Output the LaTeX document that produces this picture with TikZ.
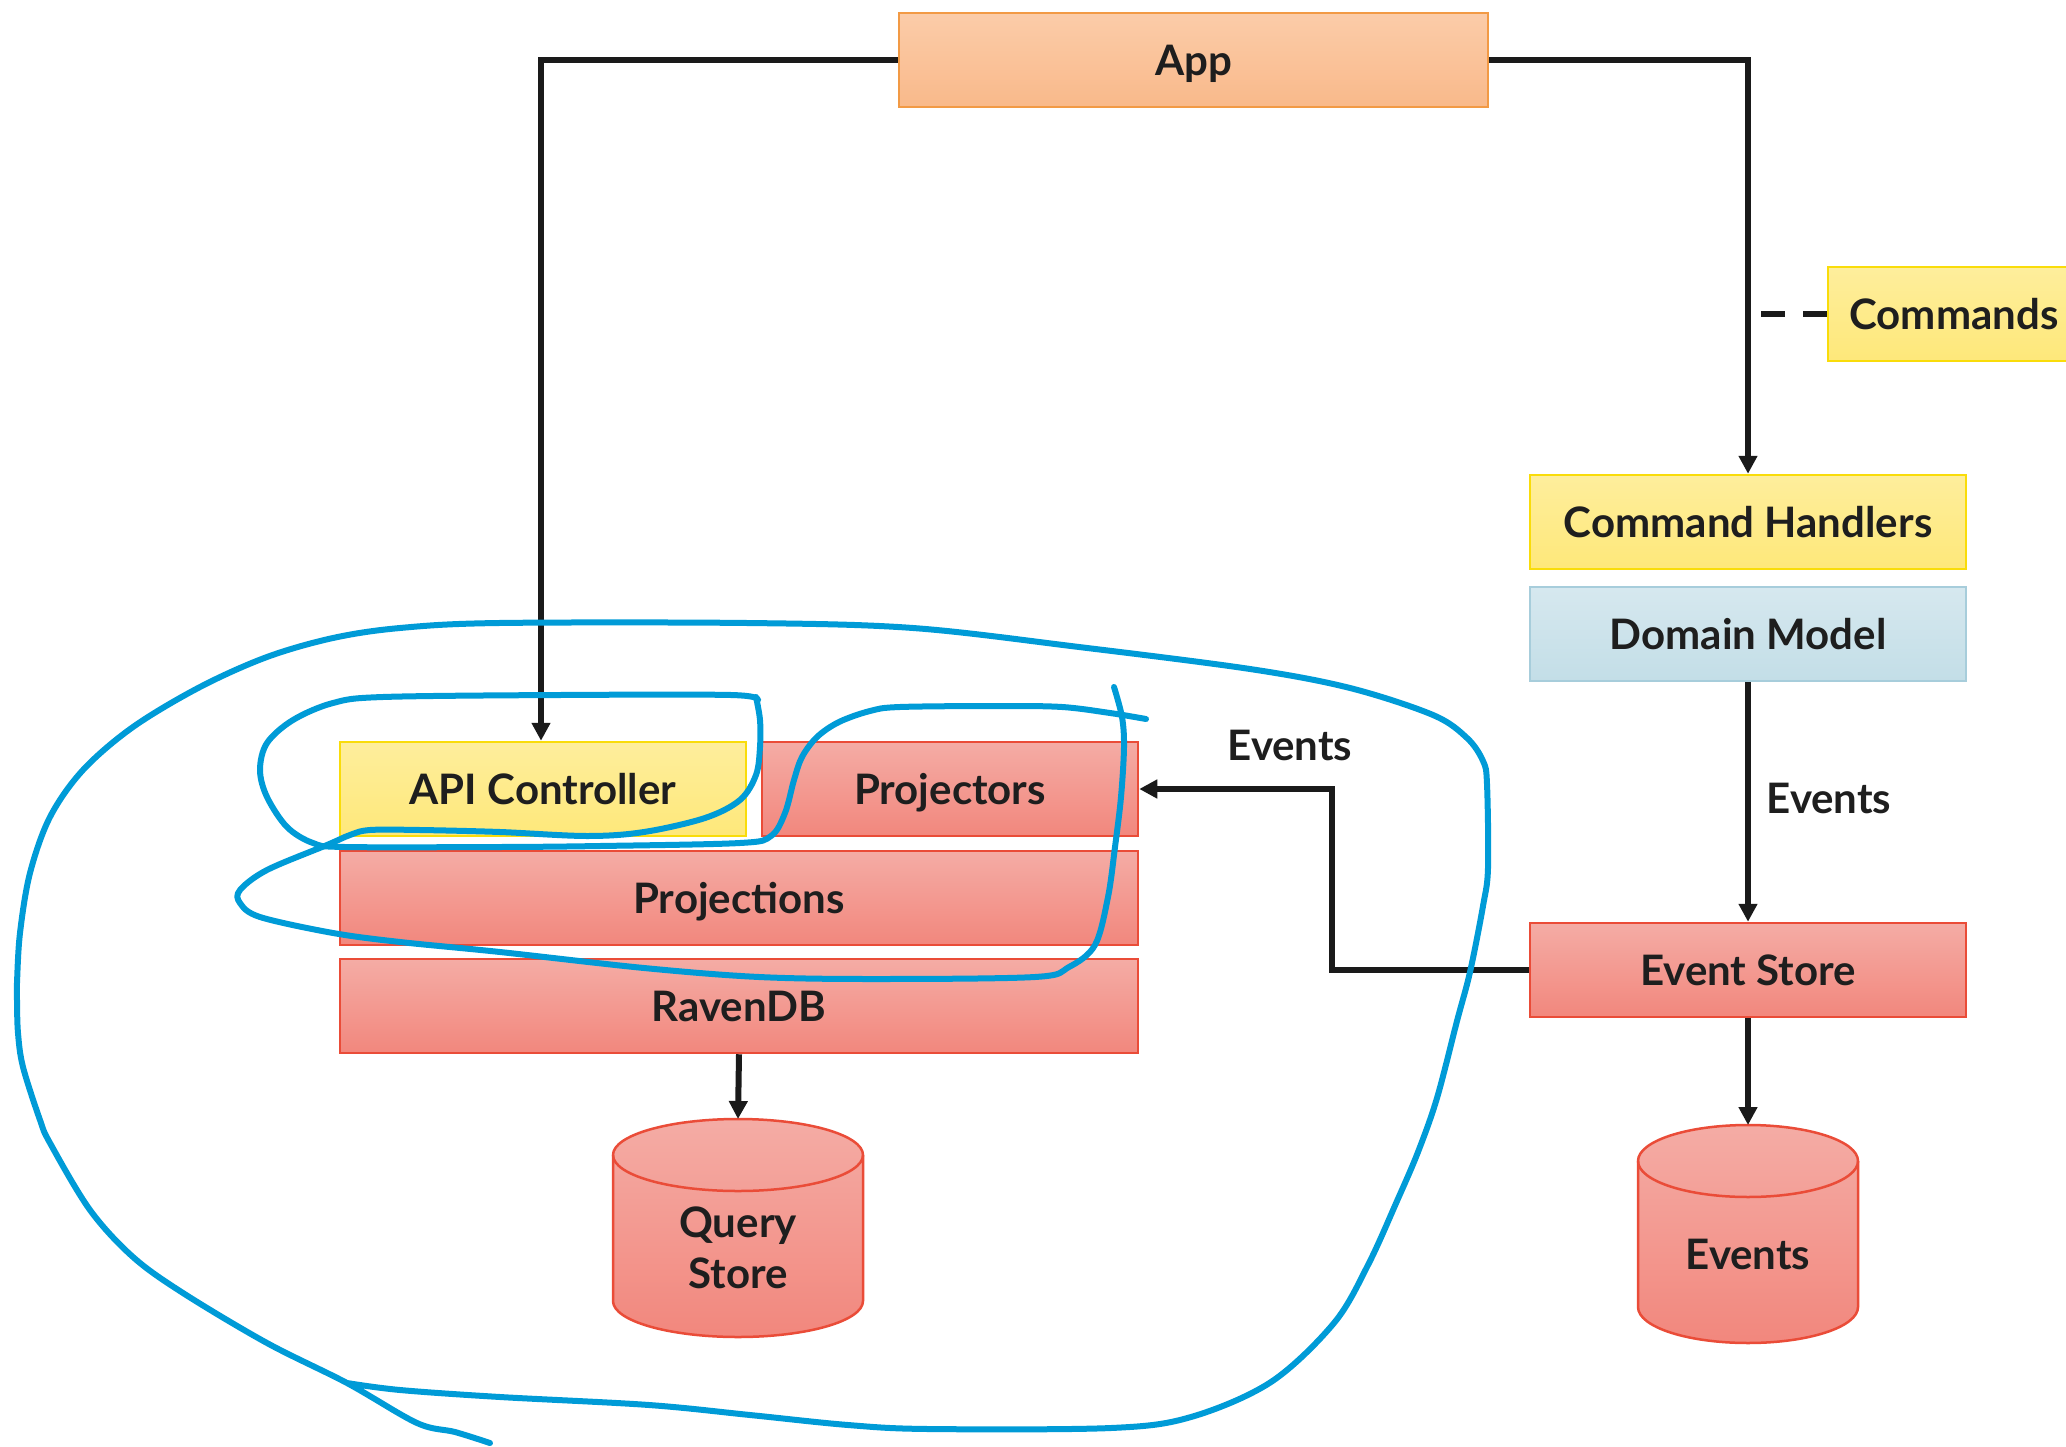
\documentclass[tikz,border=0pt]{standalone}
\usepackage{fontspec}
\setmainfont{Lato}
\usetikzlibrary{arrows.meta}
\definecolor{txt}{HTML}{1E1E1E}
\definecolor{ink}{HTML}{1A1A1A}
\definecolor{pen}{HTML}{009BD7}
\definecolor{orT}{HTML}{FBCCA9}
\definecolor{orB}{HTML}{F9B98A}
\definecolor{orD}{HTML}{F29A45}
\definecolor{yeT}{HTML}{FEEE9C}
\definecolor{yeB}{HTML}{FEE87A}
\definecolor{yeD}{HTML}{F9DC0A}
\definecolor{blT}{HTML}{D6E8EF}
\definecolor{blB}{HTML}{C3DEE7}
\definecolor{blD}{HTML}{A7CDDB}
\definecolor{rdT}{HTML}{F4ACA5}
\definecolor{rdB}{HTML}{F2877D}
\definecolor{rdD}{HTML}{EA4C38}
\begin{document}
\begin{tikzpicture}[x=1pt,y=-1pt,
  lbl/.style={font=\fontsize{42}{51}\selectfont\bfseries, text=txt},
  box/.style={lbl, draw, line width=2.5pt, inner sep=0pt, minimum height=94,
    text height=31pt, text depth=0pt},
  orbox/.style={box, draw=orD, top color=orT, bottom color=orB},
  yebox/.style={box, draw=yeD, top color=yeT, bottom color=yeB},
  blbox/.style={box, draw=blD, top color=blT, bottom color=blB},
  rdbox/.style={box, draw=rdD, top color=rdT, bottom color=rdB},
  cylbody/.style={draw=rdD, line width=2.5pt, top color=rdT, bottom color=rdB},
  cylrim/.style={draw=rdD, line width=2.5pt},
  link/.style={draw=ink, line width=6pt},
  arr/.style={link, -{Triangle[length=18pt,width=18pt]}},
  dashlink/.style={draw=ink, line width=6pt, dash pattern=on 24pt off 18pt},
  penstroke/.style={draw=pen, line width=6pt, line cap=round, line join=round},
]
\useasboundingbox (0,0) rectangle (2066,1447);
\clip (0,0) rectangle (2066,1447);

% boxes
\node[orbox, minimum width=589] (app) at (1193.5,60) {App};
\node[yebox, minimum width=252] (cmds) at (1954,314) {Commands};
\node[yebox, minimum width=436] (ch) at (1748,522) {Command Handlers};
\node[blbox, minimum width=436] (dm) at (1748,634) {Domain Model};
\node[rdbox, minimum width=436] (es) at (1748,970) {Event Store};
\node[yebox, minimum width=406] (api) at (543,789) {API Controller};
\node[rdbox, minimum width=376] (proj) at (950,789) {Projectors};
\node[rdbox, minimum width=798] (pjs) at (739,898) {Projections};
\node[rdbox, minimum width=798] (rdb) at (739,1006) {RavenDB};

% cylinders
\path[cylbody] (613,1155) -- (613,1301) arc[start angle=180,end angle=0,x radius=125,y radius=36]
  -- (863,1155) arc[start angle=360,end angle=180,x radius=125,y radius=36] -- cycle;
\draw[cylrim] (613,1155) arc[start angle=180,end angle=0,x radius=125,y radius=36];
\coordinate (qstop) at (738,1119);
\node[lbl, align=center] (qs) at (738,1248) {Query\\Store};

\path[cylbody] (1638,1161) -- (1638,1307) arc[start angle=180,end angle=0,x radius=110,y radius=36]
  -- (1858,1161) arc[start angle=360,end angle=180,x radius=110,y radius=36] -- cycle;
\draw[cylrim] (1638,1161) arc[start angle=180,end angle=0,x radius=110,y radius=36];
\coordinate (evtop) at (1748,1125);
\node[lbl] (evc) at (1748,1254) {Events};

% connectors
\draw[arr] (app.west) -| ([xshift=-2pt]api.north);
\draw[arr] (app.east) -| (ch.north);
\coordinate (dashend) at (1761,314);
\draw[dashlink] (cmds.west) -- (dashend);
\draw[arr] (dm.south) -- (es.north);
\node[lbl] (evlbl1) at (1829,798) {Events};
\draw[arr] (es.south) -- (evtop);
\draw[arr] (es.west) -- ++(-197,0) |- (proj.east);
\node[lbl] (evlbl2) at (1290,745) {Events};
\draw[arr] (rdb.south) -- (qstop);

% hand-drawn pen strokes
\draw[penstroke] plot[smooth, tension=0.55] coordinates {
(490,1443) (455,1432) (417,1423) (347,1383) (267,1343) (183,1293) (133,1257) (90,1210)
(50,1143) (40,1120) (23,1067) (18,1033) (17,1000) (17,983) (20,933) (30,873) (50,817)
(83,770) (133,727) (200,687) (267,657) (333,638) (400,628) (499,623) (747,623) (913,628)
(1079,647) (1250,669) (1350,688) (1433,715) (1467,738) (1483,761) (1487,784) (1488,868)
(1483,906) (1470,972) (1457,1021) (1437,1098) (1418,1152) (1397,1201) (1368,1265)
(1334,1323) (1271,1382) (1191,1417) (1111,1428) (928,1429) (848,1425) (750,1415)
(649,1405) (500,1397) (400,1390) (347,1383)};
\draw[penstroke] plot[smooth, tension=0.55] coordinates {
(758,700) (731,695) (560,695) (383,697) (333,703) (293,720) (267,743) (260,770) (267,797)
(287,827) (313,843) (345,847) (500,847) (600,846) (740,843) (771,836) (785,813) (794,780)
(802,757) (817,737) (839,722) (870,711) (900,707) (1000,706) (1062,707) (1110,713) (1146,719)};
\draw[penstroke] plot[smooth, tension=0.55] coordinates {
(756,697) (760,720) (760,747) (756,775) (740,800) (705,818) (644,832) (587,836) (500,832)
(420,830) (370,830) (350,835) (327,845) (267,870) (240,890) (240,903) (260,917)
(333,933) (400,942) (500,952) (644,968) (759,977) (874,979) (1035,977) (1069,967)
(1095,945) (1108,897) (1115,847) (1121,797) (1124,747) (1122,717) (1114,687)};
\end{tikzpicture}
\end{document}
